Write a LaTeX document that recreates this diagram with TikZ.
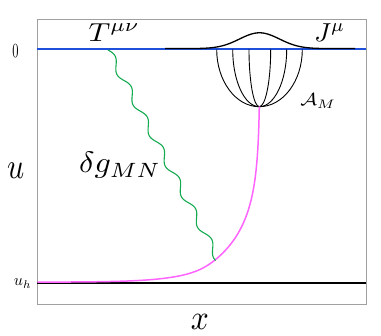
\documentclass[tikz,border=0pt]{standalone}
\usepackage{graphicx}
\definecolor{bndblue}{RGB}{30,80,220}
\definecolor{geomag}{RGB}{255,100,255}
\definecolor{wavegreen}{RGB}{20,170,80}
\definecolor{framegray}{RGB}{160,160,160}
\begin{document}
\begin{tikzpicture}[x=1pt,y=-1pt,
  lab/.style={inner sep=0pt, outer sep=0pt},
  fanline/.style={black, line width=0.9pt},
  framebox/.style={framegray, line width=1pt},
  declare function={
    xa(\t)=260-80*exp(-0.027*exp(\t));
    xb(\t)=196.7+31.25*(\t-2.398);
    gx(\t)=min(xa(\t),xb(\t))-3*ln(1+exp(-min(abs(xa(\t)-xb(\t))/3,10)));
  }]
\useasboundingbox (0,0) rectangle (381,336);
% frame
\draw[framebox] (37.3,19.3) rectangle (366,305);
% horizon line
\coordinate (hl) at (37.3,283.3);
\coordinate (hr) at (366,283.3);
\draw[black, line width=2pt] (hl) -- (hr);
% boundary line
\coordinate (bl) at (37.3,49.5);
\coordinate (br) at (366,49.5);
\draw[bndblue, line width=2pt] (bl) -- (br);
% gaussian source
\draw[black, line width=1.3pt] plot[domain=165:355, samples=160]
  (\x, {48.6-15.8*exp(-0.00125*(\x-259.5)*(\x-259.5))});
% fan of field lines
\coordinate (fanbot) at (259.3,106.7);
\foreach \xi/\nm in {216.7/fa,232.7/fb,249/fc,270.7/fd,286.7/fe,302.3/ff}{
  \coordinate (\nm) at (\xi,49.5);
  \pgfmathsetmacro{\cx}{259.3+0.552*(\xi-259.3)}
  \draw[fanline] (\nm) .. controls (\xi,81) and (\cx,106.7) .. (fanbot);
}
% geodesic
\draw[geomag, line width=1.5pt] plot[domain=5.17:-2.7, samples=220, smooth]
  ({gx(\x)}, {282.2-exp(\x)});
% graviton wavy line
\draw[wavegreen, line width=1.1pt] plot[domain=0:1, samples=300, smooth]
  ({108+110.3*\x+3.5*0.884*sin(360*6.85*\x)}, {50+209.3*\x-3.5*0.466*sin(360*6.85*\x)});
% labels
\node[lab] (zero) at (15.5,51.3) {\scalebox{1.25}[2.0]{$0$}};
\node[lab] (uh) at (22.7,283.5) {\scalebox{1.6}[1.6]{$u_h$}};
\node[lab] (ulab) at (15.7,170.5) {\scalebox{3.0}[3.6]{$u$}};
\node[lab] (xlab) at (200,322) {\scalebox{3.15}[3.5]{$x$}};
\node[lab] (tlab) at (114.2,32.2) {\scalebox{3.0}[2.6]{$T^{\mu\nu}$}};
\node[lab] (jlab) at (329.7,32.5) {\scalebox{2.6}[2.6]{$J^{\mu}$}};
\node[lab] (alab) at (318,101) {\scalebox{2.1}[1.75]{$\mathcal{A}_M$}};
\node[lab] (glab) at (120,165.5) {\scalebox{3.2}[2.95]{$\delta g_{MN}$}};
\end{tikzpicture}
\end{document}
